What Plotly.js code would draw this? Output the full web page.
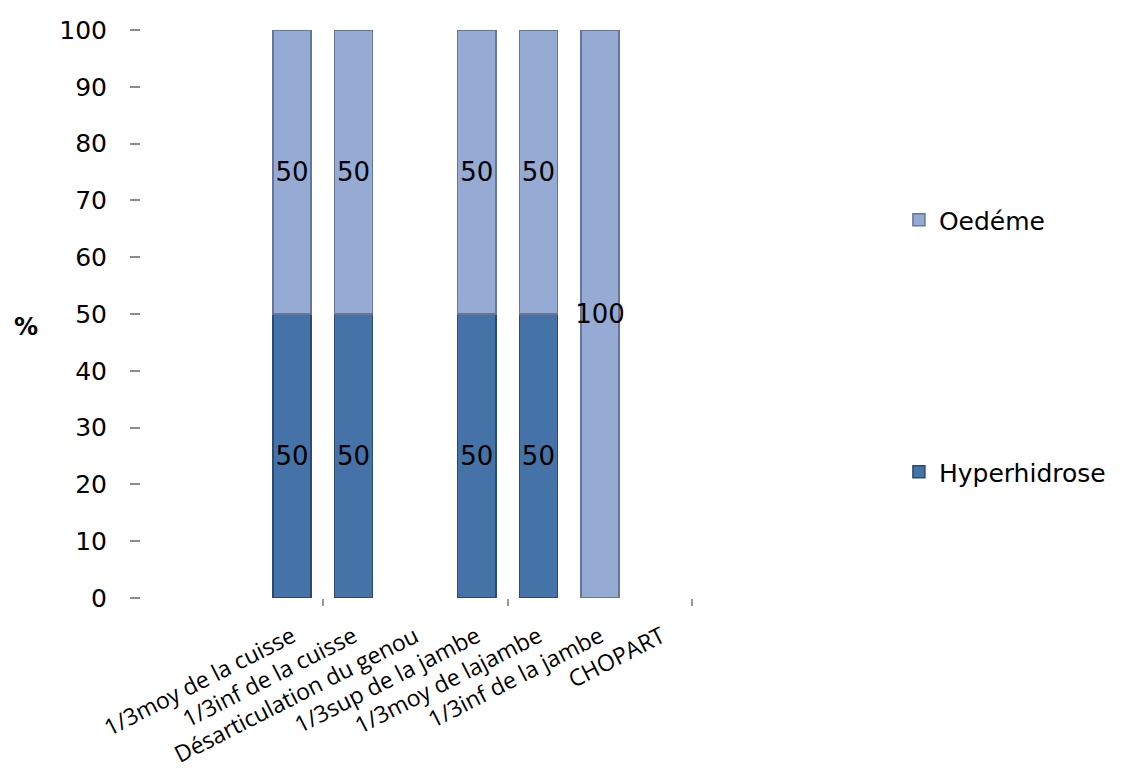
<!DOCTYPE html>
<html>
<head>
<meta charset="utf-8">
<script src="https://cdn.plot.ly/plotly-3.0.1.min.js"></script>
<style>html,body{margin:0;padding:0;background:#fff;}#chart{width:1135px;height:774px;}</style>
</head>
<body>
<div id="chart"></div>
<script>
const categories = ['1/3moy de la cuisse','1/3inf de la cuisse','Désarticulation du genou','1/3sup de la jambe','1/3moy de lajambe','1/3inf de la jambe','CHOPART'];
const hyperhidrose = [50, 50, null, 50, 50, null, null];
const oedeme = [50, 50, null, 50, 50, 100, null];
const yTicks = [0,10,20,30,40,50,60,70,80,90,100];
const xTickMarks = [0.5, 3.5, 6.5];

const sans = 'DejaVu Sans, Liberation Sans, Arial, sans-serif';
const labelFont = {family: sans, size: 26, color: '#000'};

const traces = [
  {
    type: 'bar', name: 'Hyperhidrose', x: categories, y: hyperhidrose,
    marker: {color: '#4572A7', line: {color: '#2E4A70', width: 1.5}},
    text: hyperhidrose.map(v => v === null ? '' : String(v)),
    textposition: 'inside', insidetextanchor: 'middle', textangle: 0,
    constraintext: 'none', textfont: labelFont, cliponaxis: false,
    legend: 'legend2', hoverinfo: 'skip'
  },
  {
    type: 'bar', name: 'Oedéme', x: categories, y: oedeme,
    marker: {color: '#95ABD3', line: {color: '#64769A', width: 1.5}},
    text: oedeme.map(v => v === null ? '' : String(v)),
    textposition: 'inside', insidetextanchor: 'middle', textangle: 0,
    constraintext: 'none', textfont: labelFont, cliponaxis: false,
    legend: 'legend', hoverinfo: 'skip'
  },
  {
    type: 'scatter', mode: 'markers', x: xTickMarks, y: xTickMarks.map(() => null),
    xaxis: 'x2', yaxis: 'y', showlegend: false, hoverinfo: 'skip'
  }
];

const layout = {
  width: 1135, height: 774,
  margin: {l: 141, r: 315, t: 30, b: 176},
  paper_bgcolor: '#fff', plot_bgcolor: '#fff',
  barmode: 'stack', bargap: 0.38,
  font: {family: sans, color: '#000'},
  xaxis: {
    type: 'category', range: [-2.45, 8.57],
    tickangle: -27, ticks: '', showline: false, showgrid: false, zeroline: false,
    ticklabelstandoff: 20,
    tickfont: {family: 'Open Sans, sans-serif', size: 23, color: '#000'},
    fixedrange: true
  },
  xaxis2: {
    overlaying: 'x', anchor: 'y', side: 'bottom', type: 'linear',
    range: [-2.45, 8.57], tickmode: 'array', tickvals: xTickMarks,
    ticks: 'outside', ticklen: 7, tickwidth: 2, tickcolor: '#999',
    showticklabels: false, showline: false, showgrid: false, zeroline: false
  },
  yaxis: {
    range: [0, 100], tickmode: 'array', tickvals: yTicks,
    ticks: 'outside', ticklen: 10, tickwidth: 2, tickcolor: '#8c8c8c',
    ticklabelstandoff: 18,
    showline: false, showgrid: false, zeroline: false,
    tickfont: {family: sans, size: 25, color: '#000'}
  },
  legend: {
    xref: 'container', yref: 'container', x: 0.792, y: 1 - 220/774,
    xanchor: 'left', yanchor: 'middle',
    font: {family: sans, size: 25, color: '#000'},
    bgcolor: 'rgba(0,0,0,0)'
  },
  legend2: {
    xref: 'container', yref: 'container', x: 0.792, y: 1 - 472/774,
    xanchor: 'left', yanchor: 'middle',
    font: {family: sans, size: 25, color: '#000'},
    bgcolor: 'rgba(0,0,0,0)'
  },
  annotations: [{
    text: '<b>%</b>', xref: 'paper', yref: 'paper', x: -0.169, y: 0.477,
    xanchor: 'center', yanchor: 'middle', showarrow: false,
    font: {family: sans, size: 24, color: '#000'}
  }],
  showlegend: true
};

Plotly.newPlot('chart', traces, layout, {staticPlot: true, displayModeBar: false});
</script>
</body>
</html>
